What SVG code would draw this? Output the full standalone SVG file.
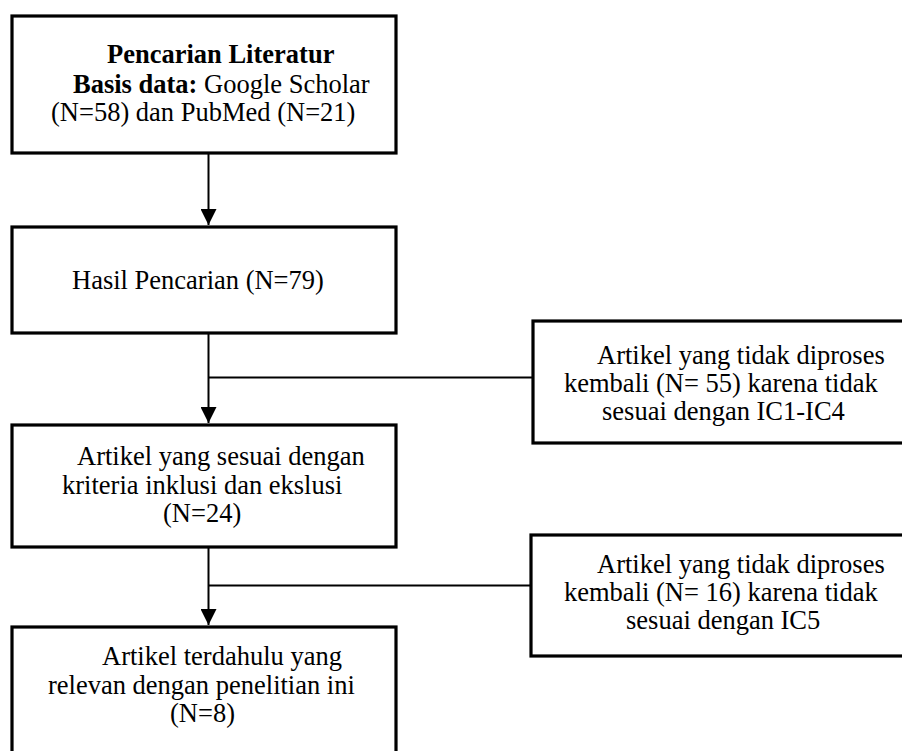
<svg xmlns="http://www.w3.org/2000/svg" width="902" height="751" viewBox="0 0 902 751">
<style>
.box{fill:#fff;stroke:#000;stroke-width:3.2}
.t{font-family:"Liberation Serif","Times New Roman",serif;font-size:26.5px;fill:#000}
.b{font-weight:bold}
.ln{stroke:#000;stroke-width:2;fill:none}
</style>
<defs>
<marker id="ah" markerUnits="userSpaceOnUse" markerWidth="16" markerHeight="16" viewBox="0 0 16 16" refX="16" refY="8" orient="auto">
<path d="M0,0 L16,8 L0,16 Z" fill="#000"/>
</marker>
</defs>
<g id="connectors">
<line class="ln" x1="208.5" y1="154" x2="208.5" y2="225" marker-end="url(#ah)"/>
<line class="ln" x1="208.5" y1="334" x2="208.5" y2="423" marker-end="url(#ah)"/>
<line class="ln" x1="208.5" y1="377.5" x2="533" y2="377.5"/>
<line class="ln" x1="208.5" y1="548" x2="208.5" y2="625" marker-end="url(#ah)"/>
<line class="ln" x1="208.5" y1="585.5" x2="531" y2="585.5"/>
</g>
<g id="n1">
<rect class="box" x="12" y="16" width="384" height="137"/>
<text class="t b" x="107" y="63">Pencarian Literatur</text>
<text class="t" x="73" y="93"><tspan class="b">Basis data:</tspan> Google Scholar</text>
<text class="t" x="51" y="121">(N=58) dan PubMed (N=21)</text>
</g>
<g id="n2">
<rect class="box" x="12" y="227" width="384" height="106"/>
<text class="t" x="72" y="289">Hasil Pencarian (N=79)</text>
</g>
<g id="n3">
<rect class="box" x="12" y="425" width="384" height="122"/>
<text class="t" x="77" y="465">Artikel yang sesuai dengan</text>
<text class="t" x="62" y="494">kriteria inklusi dan ekslusi</text>
<text class="t" x="163" y="522">(N=24)</text>
</g>
<g id="n4">
<rect class="box" x="12" y="627" width="384" height="140"/>
<text class="t" x="102" y="665">Artikel terdahulu yang</text>
<text class="t" x="48" y="694">relevan dengan penelitian ini</text>
<text class="t" x="170" y="722">(N=8)</text>
</g>
<g id="s1">
<rect class="box" x="533" y="321" width="385" height="122"/>
<text class="t" x="597" y="364">Artikel yang tidak diproses</text>
<text class="t" x="564" y="392">kembali (N= 55) karena tidak</text>
<text class="t" x="602" y="420">sesuai dengan IC1-IC4</text>
</g>
<g id="s2">
<rect class="box" x="531" y="535" width="385" height="121"/>
<text class="t" x="597" y="573">Artikel yang tidak diproses</text>
<text class="t" x="564" y="601">kembali (N= 16) karena tidak</text>
<text class="t" x="626" y="629">sesuai dengan IC5</text>
</g>
</svg>
